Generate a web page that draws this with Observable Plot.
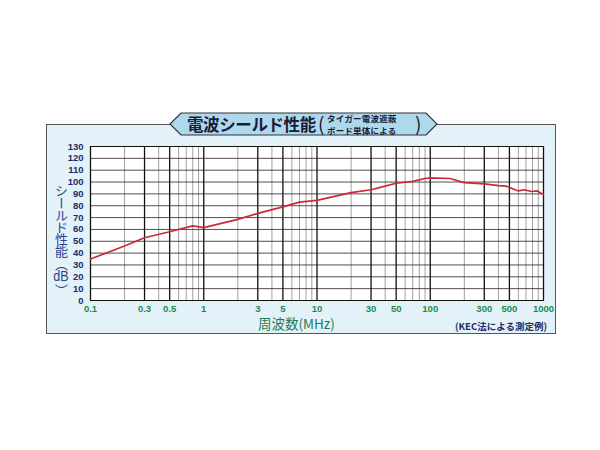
<!DOCTYPE html>
<html><head><meta charset="utf-8">
<script src="https://cdn.jsdelivr.net/npm/d3@7"></script>
<script src="https://cdn.jsdelivr.net/npm/@observablehq/plot@0.6"></script>
<style>
html,body{margin:0;padding:0;background:#fff;}
#root{position:relative;width:600px;height:450px;overflow:hidden;font-family:"Noto Sans CJK JP","Noto Sans",sans-serif;}
#panel{position:absolute;left:46px;top:124px;width:510px;height:210px;background:#e3f2f8;border:1.5px solid #555;box-sizing:border-box;}
#chart{position:absolute;left:0;top:0;}
#banner{position:absolute;left:0;top:0;}
.t{position:absolute;white-space:nowrap;}
#title{left:187px;top:111px;font-size:16.5px;font-weight:700;color:#1a1a3a;letter-spacing:-0.4px;line-height:26px;}
#sub{left:318px;top:110px;color:#1a1a3a;font-weight:700;}
.s{position:absolute;left:9px;font-size:8.5px;line-height:normal;letter-spacing:0.2px;}
#ylab{left:51px;top:184px;writing-mode:vertical-rl;font-size:13px;color:#2b3f8f;line-height:20px;letter-spacing:-0.8px;}
#ylab .c{text-combine-upright:all;font-family:"Liberation Sans",sans-serif;font-size:14px;}
#xlab{left:258px;top:313px;font-size:13.5px;color:#1f7a5a;}
#note{left:455px;top:319px;font-size:9.5px;font-weight:700;color:#1f2a6b;}
</style></head>
<body>
<div id="root">
  <div id="panel"></div>
  <svg id="banner" width="600" height="450">
    <polygon points="170,124 181,113 426,113 437,124 426,135 181,135" fill="#aed9ec" stroke="#333" stroke-width="1.2"/>
  </svg>
  <div id="chart"></div>
  <div class="t" id="title">電波シールド性能</div>
  <div class="t" id="sub">
    <span style="position:absolute;left:0;top:0;font-size:19px;line-height:26px;font-weight:400;">(</span>
    <span class="s" style="top:2.3px;">タイガー電波遮蔽</span>
    <span class="s" style="top:14px;">ボード単体による</span>
    <span style="position:absolute;left:97px;top:0;font-size:19px;line-height:26px;font-weight:400;">)</span>
  </div>
  <div class="t" id="ylab">シールド性能（<span class="c">dB</span>）</div>
  <div class="t" id="xlab">周波数(MHz)</div>
  <div class="t" id="note">(KEC法による測定例)</div>
</div>
<script>
// Data
const freqMHz = [0.1, 0.2, 0.3, 0.5, 0.8, 1, 2, 3, 5, 7, 10, 20, 30, 40, 50, 70, 90, 100, 150, 200, 300, 400, 470, 600, 680, 780, 880, 1000];
const shieldDb = [35, 46, 53, 58, 63, 61.5, 68.5, 73.5, 79, 83, 84.5, 91, 93.5, 96.5, 99, 100.5, 103, 103.5, 103, 99.5, 98.5, 97, 96.5, 92.5, 93.5, 92, 92.5, 89.5];
const xTicks = [0.1, 0.3, 0.5, 1, 3, 5, 10, 30, 50, 100, 300, 500, 1000];
const xTickLabels = ["0.1", "0.3", "0.5", "1", "3", "5", "10", "30", "50", "100", "300", "500", "1000"];
const yTicks = [0, 10, 20, 30, 40, 50, 60, 70, 80, 90, 100, 110, 120, 130];
const majorGrid = [0.1, 0.3, 0.5, 1, 3, 5, 10, 30, 50, 100, 300, 500, 1000];
const minorGrid = [0.2, 0.4, 0.6, 0.7, 0.8, 0.9, 2, 4, 6, 7, 8, 9, 20, 40, 60, 70, 80, 90, 200, 400, 600, 700, 800, 900];

const data = freqMHz.map((f, i) => ({f, v: shieldDb[i]}));
const xLabelData = xTicks.map((t, i) => ({t, label: xTickLabels[i]}));

const chart = Plot.plot({
  width: 600, height: 450,
  marginLeft: 90, marginRight: 57, marginTop: 146, marginBottom: 150,
  x: {type: "log", domain: [0.1, 1000], axis: null},
  y: {domain: [0, 130], axis: null},
  style: {background: "transparent", overflow: "visible"},
  marks: [
    Plot.frame({fill: "white", stroke: null}),
    Plot.ruleX(minorGrid, {stroke: "#8a8a8a", strokeWidth: 0.8}),
    Plot.ruleY(yTicks, {stroke: "#222", strokeWidth: 0.8}),
    Plot.ruleX(majorGrid, {stroke: "#111", strokeWidth: 1.3}),
    Plot.frame({stroke: "#111", strokeWidth: 1}),
    Plot.line(data, {x: "f", y: "v", stroke: "#cc2a36", strokeWidth: 1.7}),
    Plot.text(xLabelData, {x: "t", text: "label", frameAnchor: "bottom", dy: 11,
      fill: "#1e8a4a", fontSize: 9.5, fontWeight: "bold", fontFamily: "Liberation Sans, sans-serif"}),
    Plot.axisY(yTicks, {tickSize: 0, tickPadding: 7, fill: "#1f2a6b", fontSize: 9.5, fontWeight: "bold",
      fontFamily: "Liberation Sans, sans-serif", label: null})
  ]
});
document.getElementById("chart").appendChild(chart);
</script>
</body></html>
